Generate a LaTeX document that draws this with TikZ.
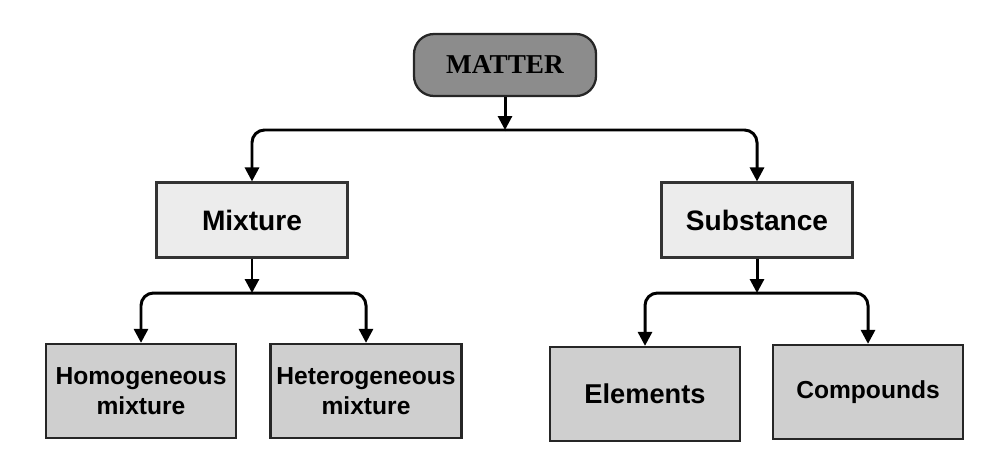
\documentclass[tikz,border=0pt]{standalone}
\usepackage{fontspec}
\setmainfont{Liberation Sans}
\newfontfamily\timesfont{Liberation Serif}
\usepackage{xcolor}
\usetikzlibrary{arrows.meta}

\definecolor{topgray}{HTML}{8C8C8C}
\definecolor{midgray}{HTML}{ECECEC}
\definecolor{lowgray}{HTML}{CFCFCF}

\begin{document}
\begin{tikzpicture}[line width=1.7pt,
        arr/.style = {-{Triangle[length=2.8mm,width=2.8mm]}, rounded corners=2.5mm},
        top/.style = {draw=black!85, line width=1.3pt, fill=topgray, rounded corners=4mm, minimum width=3.64cm, minimum height=1.24cm, font=\timesfont\bfseries\fontsize{15.5}{18}\selectfont},
        mid/.style = {draw=black!80, line width=1.2pt, fill=midgray, minimum width=3.82cm, minimum height=1.5cm, font=\bfseries\fontsize{16}{19}\selectfont},
        low/.style = {draw=black!85, line width=1.3pt, fill=lowgray, minimum width=3.8cm, minimum height=1.88cm, align=center, font=\bfseries\fontsize{14}{17}\selectfont}]
        \useasboundingbox (0,0) rectangle (19.9,9.14);
        \node[top] (matter) at (10.1,7.84) {MATTER};
        \node[mid] (mix) at (5.04,4.74) {Mixture};
        \node[mid] (sub) at (15.14,4.74) {Substance};
        \node[low] (homo) at (2.82,1.32) {Homogeneous\\mixture};
        \node[low] (hetero) at (7.32,1.32) {Heterogeneous\\mixture};
        \node[low, font=\bfseries\fontsize{15.5}{18}\selectfont] (elem) at (12.9,1.26) {Elements};
        \node[low] (comp) at (17.36,1.3) {Compounds};
        \coordinate (m) at (10.1,6.54);
        \coordinate (a) at (5.04,3.28);
        \coordinate (b) at (15.14,3.28);
        \draw[arr] (matter) -- (m);
        \draw[arr] (m) -| (mix.north);
        \draw[arr] (m) -| (sub.north);
        \draw[arr] (mix) -- (a);
        \draw[arr] (a) -| (homo.north);
        \draw[arr] (a) -| (hetero.north);
        \draw[arr] (sub) -- (b);
        \draw[arr] (b) -| (elem.north);
        \draw[arr] (b) -| (comp.north);
    \end{tikzpicture}
\end{document}
